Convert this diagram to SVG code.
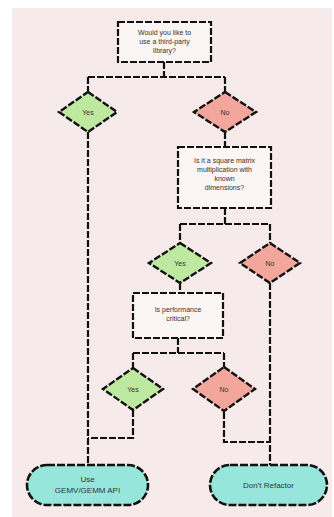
<svg xmlns="http://www.w3.org/2000/svg" width="334" height="517" viewBox="0 0 334 517">
<style>
.bg{fill:#f6eaea}
.box{fill:#fbf5f5;stroke:#111;stroke-width:2.2;stroke-dasharray:7 2}
.yes{fill:#bde9a0;stroke:#111;stroke-width:2.4;stroke-dasharray:7 2}
.no{fill:#f3a69b;stroke:#111;stroke-width:2.4;stroke-dasharray:7 2}
.term{fill:#97e6dc;stroke:#111;stroke-width:2.6;stroke-dasharray:8 2}
.edge{fill:none;stroke:#111;stroke-width:2.2;stroke-dasharray:7 2}
text{font-family:"Liberation Sans",Arial,sans-serif;font-size:7px;fill:#333;text-anchor:middle}
.t2{font-size:8px}
</style>
<rect x="0" y="0" width="334" height="517" fill="#ffffff"/>
<rect class="bg" x="12" y="8" width="320" height="509"/>
<g id="connectors">
<path class="edge" d="M164 62 V77 M88 77 H225 M88 77 V92 M225 77 V92"/>
<path class="edge" d="M225 132 V147"/>
<path class="edge" d="M225 208 V224 M180 224 H270 M180 224 V243 M270 224 V243"/>
<path class="edge" d="M180 283 V293"/>
<path class="edge" d="M178 338 V353 M133 353 H224 M133 353 V368 M224 353 V368"/>
<path class="edge" d="M88 132 V465"/>
<path class="edge" d="M133 410 V438 H88"/>
<path class="edge" d="M270 283 V465"/>
<path class="edge" d="M224 412 V442 H270"/>
</g>
<g id="n1"><rect class="box" x="118" y="22" width="93" height="40"/>
<text x="164.5" y="35">Would you like to</text><text x="164.5" y="44">use a third-party</text><text x="164.5" y="53">library?</text></g>
<g id="d1"><polygon class="yes" points="88,92 117,112 88,132 59,112"/><text x="88" y="114.5">Yes</text></g>
<g id="d2"><polygon class="no" points="225,92 256,112 225,132 194,112"/><text x="225" y="114.5">No</text></g>
<g id="n2"><rect class="box" x="178" y="147" width="93" height="61"/>
<text x="224.5" y="163">Is it a square matrix</text><text x="224.5" y="172">multiplication with</text><text x="224.5" y="181">known</text><text x="224.5" y="190">dimensions?</text></g>
<g id="d3"><polygon class="yes" points="180,243 211,263 180,283 149,263"/><text x="180" y="265.5">Yes</text></g>
<g id="d4"><polygon class="no" points="270,243 300,263 270,283 240,263"/><text x="270" y="265.5">No</text></g>
<g id="n3"><rect class="box" x="133" y="293" width="90" height="45"/>
<text x="178" y="312">Is performance</text><text x="178" y="321">critical?</text></g>
<g id="d5"><polygon class="yes" points="133,368 163,389 133,410 103,389"/><text x="133" y="391.5">Yes</text></g>
<g id="d6"><polygon class="no" points="224,367 255,389 224,411 193,389"/><text x="224" y="391.5">No</text></g>
<g id="t1"><rect class="term" x="27" y="465" width="121" height="40" rx="20"/>
<text class="t2" x="87.5" y="482">Use</text><text class="t2" x="87.5" y="493">GEMV/GEMM API</text></g>
<g id="t2"><rect class="term" x="210" y="465" width="117" height="40" rx="20"/>
<text class="t2" x="268.5" y="488">Don't Refactor</text></g>
</svg>
